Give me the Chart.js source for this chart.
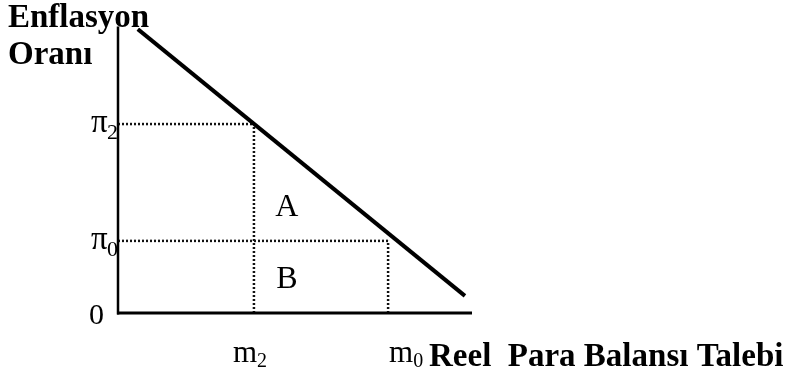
<!DOCTYPE html>
<html>
<head>
<meta charset="utf-8">
<script src="https://cdn.jsdelivr.net/npm/chart.js@4/dist/chart.umd.min.js"></script>
<style>
html,body{margin:0;padding:0;background:#fff;}
#wrap{width:792px;height:376px;}
</style>
</head>
<body>
<div id="wrap"><canvas id="c" width="792" height="376"></canvas></div>
<script>
// Demand curve endpoints (real money balances vs. inflation rate), axis units 0..100
const demandX = [5.6, 98.0];
const demandY = [99.6, 6.0];
// Money demand levels: m2, m0
const mLevels = [38.4, 76.3];
const mNames = ['m', 'm'];
const mSubs = ['2', '0'];
// Inflation levels: π2, π0
const piLevels = [66.3, 25.3];
const piNames = ['π', 'π'];
const piSubs = ['2', '0'];
// Region labels
const areaNames = ['A', 'B'];
const areaX = [47.7, 47.7];
const areaY = [37.9, 12.6];
const yTitle = ['Enflasyon', 'Oranı'];
const xTitle = 'Reel  Para Balansı Talebi';

const dot = {borderColor:'#111', borderWidth:2.5, borderDash:[2,2], pointRadius:0, fill:false, showLine:true};
const datasets = [
  {data: demandX.map((x,i)=>({x, y: demandY[i]})), borderColor:'#000', borderWidth:4, pointRadius:0, showLine:true, fill:false},
];
mLevels.forEach((m,i)=>{
  datasets.push(Object.assign({}, dot, {data:[{x:0,y:piLevels[i]},{x:m,y:piLevels[i]}]}));
  datasets.push(Object.assign({}, dot, {data:[{x:m,y:0},{x:m,y:piLevels[i]}]}));
});

const serif = '"Liberation Serif", "Times New Roman", serif';
const labelsPlugin = {
  id:'labels',
  afterDatasetsDraw(chart){
    const ctx = chart.ctx, xs = chart.scales.x, ys = chart.scales.y;
    const x0 = xs.getPixelForValue(0), y0 = ys.getPixelForValue(0);
    ctx.save();
    ctx.strokeStyle = '#000';
    ctx.lineWidth = 2.5;
    ctx.beginPath(); ctx.moveTo(x0, ys.getPixelForValue(100.5)); ctx.lineTo(x0, y0+1.5); ctx.stroke();
    ctx.lineWidth = 3;
    ctx.beginPath(); ctx.moveTo(x0-1, y0); ctx.lineTo(xs.getPixelForValue(100), y0); ctx.stroke();
    ctx.fillStyle = '#000';
    ctx.textBaseline = 'alphabetic';
    // y title
    ctx.font = 'bold 33px ' + serif;
    ctx.textAlign = 'left';
    ctx.fillText(yTitle[0], 8, 27);
    ctx.fillText(yTitle[1], 8, 64);
    // y ticks
    piLevels.forEach((p,i)=>{
      const py = ys.getPixelForValue(p);
      ctx.font = '33px ' + serif;
      ctx.textAlign = 'left';
      ctx.fillText(piNames[i], 91, py + 8);
      ctx.font = '22px ' + serif;
      ctx.fillText(piSubs[i], 107, py + 15);
    });
    ctx.font = '30px ' + serif;
    ctx.fillText('0', 89, y0 + 11);
    // x ticks
    mLevels.forEach((m,i)=>{
      const px = xs.getPixelForValue(m);
      ctx.font = '31px ' + serif;
      ctx.textAlign = 'left';
      const mx = px - 21 + (i===1 ? 22 : 0);
      ctx.fillText(mNames[i], mx, 362);
      const w = ctx.measureText(mNames[i]).width;
      ctx.font = '20px ' + serif;
      ctx.fillText(mSubs[i], mx + w, 367);
    });
    // x title
    ctx.font = 'bold 33px ' + serif;
    ctx.fillText(xTitle, 429, 366);
    // area labels
    ctx.font = '32px ' + serif;
    ctx.textAlign = 'center';
    areaNames.forEach((a,i)=>{
      ctx.fillText(a, xs.getPixelForValue(areaX[i]), ys.getPixelForValue(areaY[i]) + 11);
    });
    ctx.restore();
  }
};

new Chart(document.getElementById('c'), {
  type:'scatter',
  data:{datasets},
  options:{
    responsive:false,
    animation:false,
    devicePixelRatio:1,
    layout:{padding:{left:118, right:320, top:28, bottom:63}},
    plugins:{legend:{display:false}, tooltip:{enabled:false}},
    scales:{
      x:{type:'linear', min:0, max:100, display:false},
      y:{type:'linear', min:0, max:100, display:false}
    }
  },
  plugins:[labelsPlugin]
});
</script>
</body>
</html>
